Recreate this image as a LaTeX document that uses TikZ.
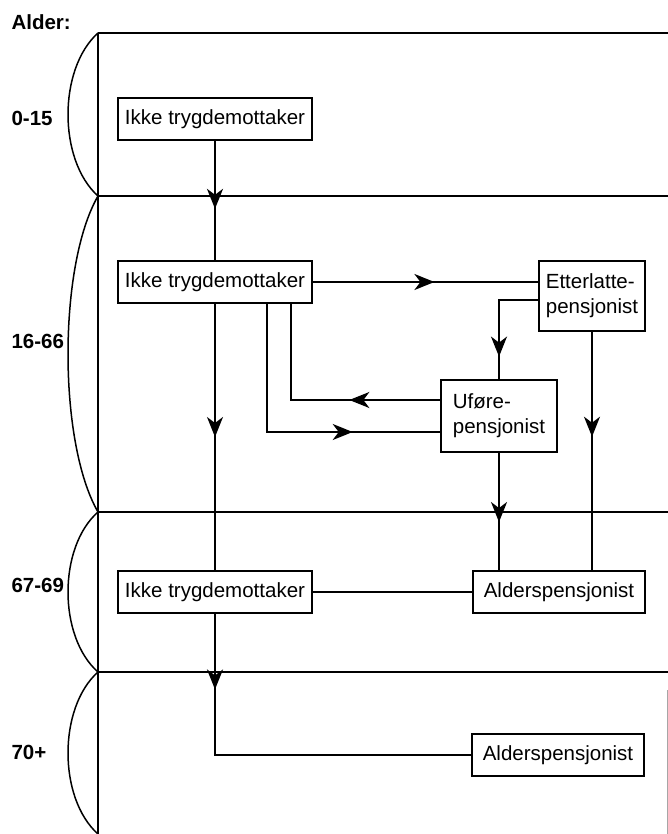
\documentclass[tikz,border=0pt]{standalone}
\usepackage{fontspec}
\setmainfont{Liberation Sans}
\usetikzlibrary{arrows.meta,calc,decorations.markings}

\begin{document}
\begin{tikzpicture}[
  x=1pt,y=-1pt,
  font=\fontsize{20.5}{25}\selectfont,
  box/.style={draw=black,line width=2pt,minimum height=42pt,inner xsep=7pt,
              align=left,fill=white},
  wide/.style={box,minimum width=194pt},
  ald/.style={box,minimum width=172pt},
  two/.style={box,minimum height=70pt},
  frame/.style={line width=2pt},
  bow/.style={line width=1.5pt},
  age/.style={anchor=west,font=\fontsize{20.5}{24}\selectfont\bfseries},
  link/.style={line width=2pt},
  flow/.style={link,postaction={decorate},
    decoration={markings,mark=at position #1 with
      {\arrow{Stealth[length=20pt,width=16pt,inset=6pt]}}}}
]
\useasboundingbox (0,0) rectangle (668,834);

% ---- aldersinndeling ----
\draw[frame] (98,33) -- (98,834);
\foreach \y in {33,196,512,672}
  \draw[frame] (98,\y) -- (668,\y);
\foreach \ya/\yb in {33/196,196/512,512/672,672/834}
  \draw[bow] (98,\ya) .. controls (58,{\ya+0.22*(\yb-\ya)})
    and (58,{\yb-0.22*(\yb-\ya)}) .. (98,\yb);
\draw[black!35,line width=0.8pt] (667,690) -- (667,834);

\node[age] (alder) at (8,22) {Alder:};
\node[age] (ag1) at (8,118) {0-15};
\node[age] (ag2) at (8,341) {16-66};
\node[age] (ag3) at (8,585) {67-69};
\node[age] (ag4) at (8,752) {70+};

% ---- tilstander ----
\node[wide] (ik1) at (215,119) {Ikke trygdemottaker};
\node[wide] (ik2) at (215,282) {Ikke trygdemottaker};
\node[two] (et) at (592,296) {Etterlatte-\\pensjonist};
\node[two,minimum height=72pt,minimum width=116pt] (uf) at (499,416) {Uføre-\\pensjonist};
\node[wide] (ik3) at (215,592) {Ikke trygdemottaker};
\node[ald] (al1) at (559,592) {Alderspensjonist};
\node[ald] (al2) at (558,755) {Alderspensjonist};

% ---- overganger ----
\draw[flow=0.57] (ik1) -- (ik2);
\draw[flow=0.54] (ik2.east) -- (ik2.east -| et.west);
\draw[flow=0.81] ($(et.west)+(0,4)$) -| (uf.north);
\draw[flow=0.44] (et.south) -- (et.south |- al1.north);
\draw[flow=0.37] ($(uf.west)+(0,-16)$) -| ($(ik2.south)+(76,0)$);
\draw[flow=0.71] ($(ik2.south)+(52,0)$) |- ($(uf.west)+(0,16)$);
\draw[flow=0.5] (ik2) -- (ik3);
\draw[flow=0.59] (uf) -- (uf |- al1.north);
\draw[link] (ik3) -- (al1);
\draw[flow=0.19] (ik3) |- (al2);
\draw[flow=0.57] ($(al1.south)+(4,0)$) -- ($(al1.south)+(4,0)$ |- al2.north);

\end{tikzpicture}
\end{document}
